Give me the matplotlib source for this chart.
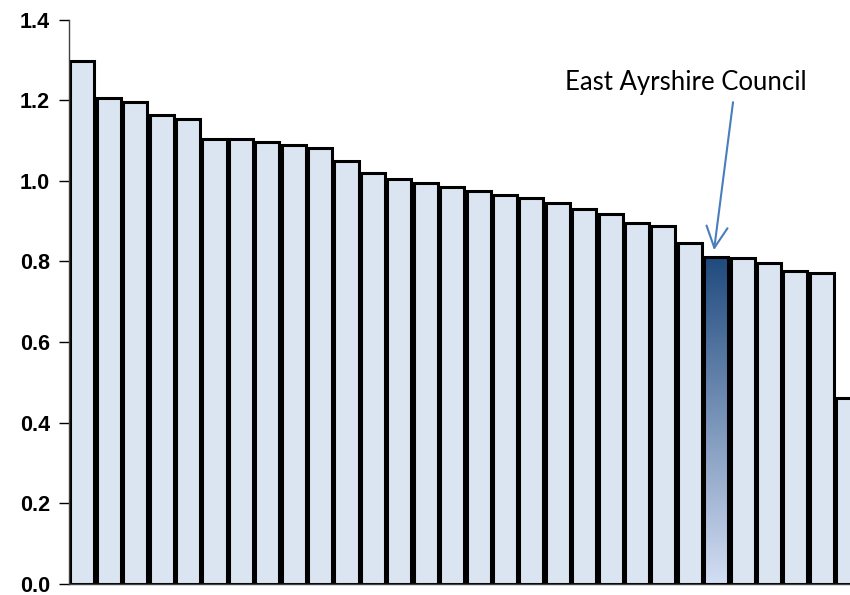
import numpy as np
import matplotlib.pyplot as plt
from matplotlib.colors import LinearSegmentedColormap

# Ratios for each council, sorted high to low
councils = [f"Council {i}" for i in range(1, 31)]
councils[24] = "East Ayrshire Council"
values = [1.297, 1.206, 1.195, 1.163, 1.153, 1.104, 1.103, 1.097, 1.090, 1.081,
          1.049, 1.019, 1.004, 0.995, 0.984, 0.975, 0.966, 0.958, 0.944, 0.930,
          0.917, 0.895, 0.888, 0.845, 0.812, 0.809, 0.795, 0.776, 0.771, 0.461]
highlight = "East Ayrshire Council"
yticks = [0.0, 0.2, 0.4, 0.6, 0.8, 1.0, 1.2, 1.4]

fig = plt.figure(figsize=(8.5, 5.95), dpi=100)
ax = fig.add_axes([0.0815, 0.0185, 1.0 - 0.0815, 0.9487])

x = np.arange(len(values))
width = 0.91
bars = ax.bar(x, values, width=width, color="#dbe5f1", edgecolor="black",
              linewidth=2.2, zorder=2)

# gradient fill for the highlighted council
hi = councils.index(highlight)
grad = LinearSegmentedColormap.from_list("g", ["#d3def3", "#1f4a7e"])
b = bars[hi]
b.set_facecolor("none")
b.set_zorder(3)
im = ax.imshow(np.linspace(0, 1, 256).reshape(-1, 1), cmap=grad, aspect="auto",
               origin="lower", zorder=2,
               extent=[b.get_x(), b.get_x() + b.get_width(), 0, values[hi]])
im.set_clip_path(b)

ax.text(22.86, 1.243, highlight, ha="center", va="center", fontsize=18.5,
        family="Lato")
ax.annotate("", xy=(hi - 0.08, values[hi] + 0.016), xytext=(24.64, 1.195),
            arrowprops=dict(arrowstyle="->", color="#4a7ebb", lw=1.5,
                            mutation_scale=38, shrinkA=0, shrinkB=0))

ax.set_xlim(-0.5, 29.07)
ax.set_ylim(0, 1.4)
ax.set_yticks(yticks)
ax.set_yticklabels([f"{t:.1f}" for t in yticks], fontweight="bold",
                   family="Liberation Sans")
ax.tick_params(axis="y", length=7, width=1, direction="out", pad=7,
               labelsize=15.5)
ax.set_xticks([])
for s in ["top", "right"]:
    ax.spines[s].set_visible(False)
ax.spines["left"].set_linewidth(1)
ax.spines["bottom"].set_linewidth(1)
ax.spines["left"].set_color("#404040")
ax.spines["bottom"].set_color("#404040")

fig.savefig("out.png", dpi=100)
